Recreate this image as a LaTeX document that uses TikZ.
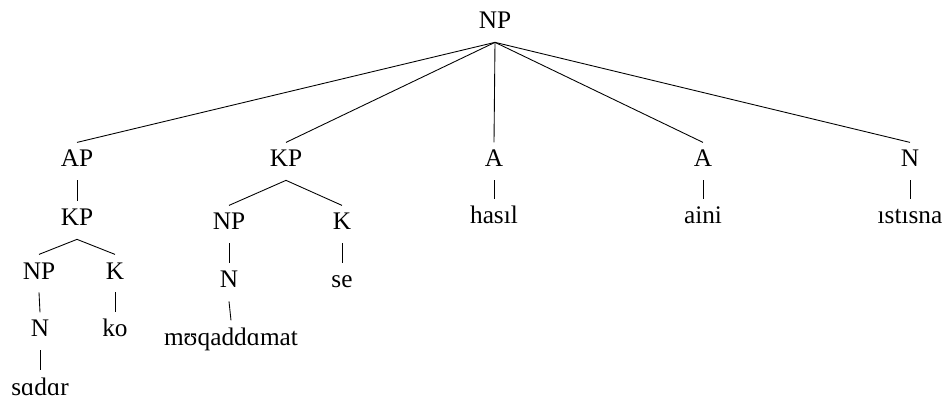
\documentclass[tikz,border=0pt]{standalone}
\usepackage{fontspec}
\setmainfont{Liberation Serif}
\begin{document}
\begin{tikzpicture}[x=0.02cm,y=-0.02cm,
  cat/.style={anchor=base,inner sep=0pt,text height=13.8pt,text depth=7.4pt,font=\fontsize{14.4}{16}\selectfont},
  edge/.style={line width=0.5pt}]
\useasboundingbox (0,0) rectangle (951,402);
%корень
\node[cat] (np) at (495,29) {NP};
\node[cat] (ap) at (77,167) {AP};
\node[cat] (kp) at (286,167) {KP};
\node[cat] (a1) at (494,167) {A};
\node[cat] (a2) at (703,167) {A};
\node[cat] (n1) at (910,167) {N};
\foreach \c in {ap,kp,a1,a2,n1}
  \draw[edge] (np.south) -- (\c.north);
%AP
\node[cat] (apkp) at (77,226) {KP};
\node[cat] (apnp) at (39,279) {NP};
\node[cat] (apk) at (115,279) {K};
\node[cat] (apn) at (40,337) {N};
\node[cat] (sadar) at (40,395) {sɑdɑr};
\node[cat] (ko) at (115,337) {ko};
\draw[edge] (ap.south) -- (apkp.north);
\draw[edge] (apkp.south) -- (apnp.north);
\draw[edge] (apkp.south) -- (apk.north);
\draw[edge] (apnp.south) -- (apn.north);
\draw[edge] (apn.south) -- (sadar.north);
\draw[edge] (apk.south) -- (ko.north);
%KP
\node[cat] (kpnp) at (229,230) {NP};
\node[cat] (kpk) at (342,230) {K};
\node[cat] (kpn) at (229,288) {N};
\node[cat] (muq) at (231,345) {mʊqaddɑmat};
\node[cat] (se) at (342,288) {se};
\draw[edge] (kp.south) -- (kpnp.north);
\draw[edge] (kp.south) -- (kpk.north);
\draw[edge] (kpnp.south) -- (kpn.north);
\draw[edge] (kpn.south) -- (muq.north);
\draw[edge] (kpk.south) -- (se.north);
%листья
\node[cat] (hasil) at (494,224) {hasıl};
\node[cat] (aini) at (703,224) {aini};
\node[cat] (istisna) at (910,224) {ıstısna};
\draw[edge] (a1.south) -- (hasil.north);
\draw[edge] (a2.south) -- (aini.north);
\draw[edge] (n1.south) -- (istisna.north);
\end{tikzpicture}
\end{document}
